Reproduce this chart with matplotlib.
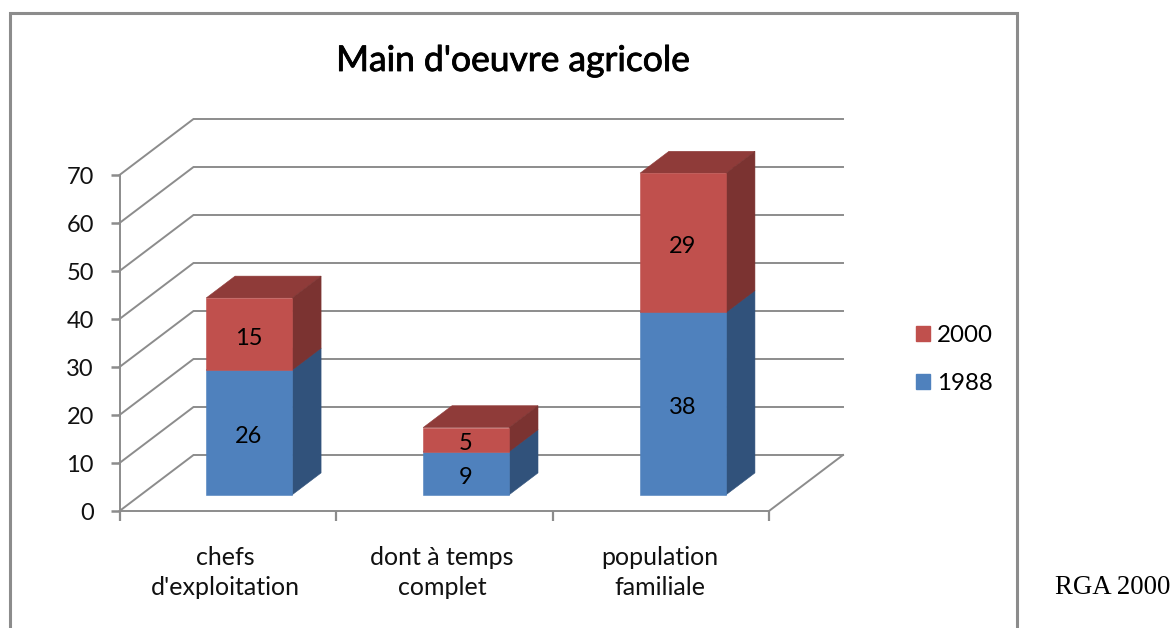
import matplotlib
matplotlib.use("Agg")
import matplotlib.patheffects as pe
import matplotlib.pyplot as plt
from matplotlib.patches import Patch, Rectangle

# Data
categories = ["chefs\nd'exploitation", "dont à temps\ncomplet", "population\nfamiliale"]
values_1988 = [26, 9, 38]
values_2000 = [15, 5, 29]
y_ticks = [0, 10, 20, 30, 40, 50, 60, 70]

# Colours: front, top, side
BLUE = ("#4f81bd", "#3f6797", "#31527b")
RED = ("#c0504d", "#8f3b39", "#7b3331")
GREY = "#8c8c8c"

W, H = 1174, 628
plt.rcParams["font.family"] = ["Lato", "DejaVu Sans"]
fig = plt.figure(figsize=(W / 100, H / 100), dpi=100)
ax = fig.add_axes([119.5 / W, 1 - 511 / H, (769 - 119.5) / W, (511 - 175) / H])
ax.set_xlim(0, 3)
ax.set_ylim(0, 70)
ax.patch.set_alpha(0)

# Depth of the 3D box, in data units
DX = 74 / (649.5 / 3)
DY = 56 / 4.8


def project(x, v, d):
    # Oblique projection: d=0 is the front of the floor, d=1 the back wall
    return x + DX * d, v + DY * d


def face(points, color, z=3):
    pts = [project(*p) for p in points]
    ax.fill([p[0] for p in pts], [p[1] for p in pts], facecolor=color, edgecolor=color, lw=0.4,
            clip_on=False, zorder=z)


def draw_block(x, width, v0, v1, colors, z):
    d0, d1 = 0.29, 0.68
    face([(x, v0, d0), (x + width, v0, d0), (x + width, v1, d0), (x, v1, d0)], colors[0], z + 1)
    face([(x, v1, d0), (x + width, v1, d0), (x + width, v1, d1), (x, v1, d1)], colors[1], z)
    face([(x + width, v0, d0), (x + width, v0, d1), (x + width, v1, d1), (x + width, v1, d0)], colors[2], z)


# Gridlines on the back wall and the left wall
for t in y_ticks:
    x0, y0 = project(0, t, 0)
    x1, y1 = project(0, t, 1)
    x2, y2 = project(3, t, 1)
    ax.plot([x0, x1, x2], [y0, y1, y2], color=GREY, lw=1.4, clip_on=False, zorder=1, solid_joinstyle="miter")

# Right edge of the floor
x0, y0 = project(3, 0, 0)
x1, y1 = project(3, 0, 1)
ax.plot([x0, x1], [y0, y1], color=GREY, lw=1.4, clip_on=False, zorder=1)

# Stacked bars
bar_w = 86 / (649.5 / 3)
for i in range(len(categories)):
    x = i * 1.002 + 0.5 - bar_w / 2
    a = values_1988[i]
    b = values_2000[i]
    draw_block(x, bar_w, 0, a, BLUE, 3)
    draw_block(x, bar_w, a, a + b, RED, 5)
    for mid, val in [(a / 2, a), (a + b / 2, b)]:
        cx, cy = project(x + bar_w / 2, mid, 0.29)
        ax.annotate(str(val), (cx, cy), xytext=(-0.3, -3), textcoords="offset points", ha="center", va="center",
                    fontsize=17, color="black", zorder=8, annotation_clip=False)

# Axes
for s in ["top", "right"]:
    ax.spines[s].set_visible(False)
for s in ["left", "bottom"]:
    ax.spines[s].set_color(GREY)
    ax.spines[s].set_linewidth(1.4)
ax.set_yticks(y_ticks)
ax.set_xticks([0, 1, 2, 3])
ax.set_xticklabels([])
ax.set_xticks([0.49, 1.49, 2.495], minor=True)
ax.set_xticklabels(categories, minor=True, fontsize=18, linespacing=1.39, color="#111111")
ax.tick_params(axis="y", direction="out", length=6.5, width=1.8, color=GREY, labelsize=17, pad=12, labelcolor="#111111")
ax.tick_params(axis="x", which="major", direction="out", length=7, width=1.6, color=GREY)
ax.tick_params(axis="x", which="minor", length=0, pad=25)

# Outer chart frame, open at the bottom of the image
fig.add_artist(Rectangle((10 / W, -0.02), (1017 - 10) / W, 1.02 - 13.5 / H, transform=fig.transFigure,
                         fill=False, edgecolor=GREY, lw=2.2))

title = fig.text(513 / W, 1 - 61 / H, "Main d'oeuvre agricole", ha="center", va="center", fontsize=25.5, color="black")
title.set_path_effects([pe.withStroke(linewidth=0.6, foreground="black")])
fig.text(1112.5 / W, 1 - 587 / H, "RGA 2000", ha="center", va="center", fontsize=19.4,
         family="Liberation Serif", color="black")

handles = [Patch(color=RED[0], label="2000"), Patch(color=BLUE[0], label="1988")]
fig.legend(handles=handles, loc="center left", bbox_to_anchor=(894 / W, 1 - 359.5 / H), frameon=False,
           fontsize=17.4, handlelength=0.58, handleheight=0.58, handletextpad=0.3, labelspacing=1.14)

fig.savefig("out.png", dpi=100)
